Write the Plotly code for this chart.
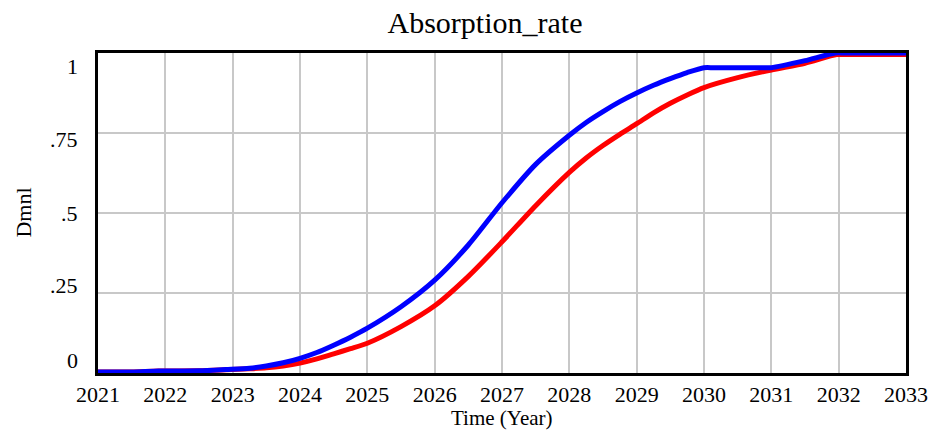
import plotly.graph_objects as go

# ---- data ----
blue_years = [2021, 2021.5, 2021.9, 2022.5, 2022.9, 2023.25, 2023.5, 2023.75, 2024, 2024.25,
              2024.5, 2024.75, 2025, 2025.5, 2026, 2026.5, 2027, 2027.5, 2028, 2028.25,
              2028.5, 2028.75, 2029, 2029.25, 2029.5, 2029.75, 2030, 2030.15, 2030.85, 2031,
              2031.5, 2031.95, 2032.1, 2033]
blue_vals = [0.003, 0.003, 0.006, 0.007, 0.011, 0.015, 0.022, 0.032, 0.046, 0.064,
             0.087, 0.112, 0.140, 0.207, 0.290, 0.400, 0.532, 0.652, 0.743, 0.783,
             0.817, 0.848, 0.875, 0.899, 0.920, 0.939, 0.954, 0.954, 0.954, 0.954,
             0.976, 1.0, 1.0, 1.0]

red_years = [2021, 2021.5, 2021.9, 2022.5, 2022.9, 2023.25, 2023.5, 2023.75, 2024, 2024.25,
             2024.5, 2024.75, 2025, 2025.5, 2026, 2026.5, 2027, 2027.5, 2028, 2028.25,
             2028.5, 2028.75, 2029, 2029.25, 2029.5, 2029.75, 2030, 2030.5, 2031, 2031.5,
             2031.97, 2032.1, 2033]
red_vals = [0.003, 0.003, 0.006, 0.007, 0.010, 0.013, 0.016, 0.022, 0.031, 0.044,
            0.060, 0.076, 0.093, 0.145, 0.210, 0.302, 0.410, 0.523, 0.627, 0.672,
            0.711, 0.746, 0.779, 0.813, 0.843, 0.869, 0.892, 0.923, 0.947, 0.968,
            0.995, 0.995, 0.995]

x_ticks = list(range(2021, 2034))
y_ticks = [0, 0.25, 0.5, 0.75, 1]
y_tick_text = ["0", ".25", ".5", ".75", "1"]

title_text = "Absorption_rate"
x_title = "Time (Year)"
y_title = "Dmnl"

FONT = "Liberation Serif, Times New Roman, serif"
W, H = 940, 432
L, R, T, B = 98, 28, 53, 59

fig = go.Figure()
fig.add_trace(go.Scatter(x=red_years, y=red_vals, mode="lines",
                         line=dict(color="#ff0000", width=5, shape="spline", smoothing=0.7),
                         name="red", showlegend=False))
fig.add_trace(go.Scatter(x=blue_years, y=blue_vals, mode="lines",
                         line=dict(color="#0000ff", width=5, shape="spline", smoothing=0.7),
                         name="blue", showlegend=False))

# y tick labels (Vensim places the end labels slightly inward)
label_pixel_y = [360, 285, 213, 139, 66]
plot_h = H - T - B
annotations = []
for txt, py in zip(y_tick_text, label_pixel_y):
    annotations.append(dict(text=txt, x=0, xref="paper", xanchor="right", xshift=-18,
                            y=(H - B - py) / plot_h, yref="paper", yanchor="middle",
                            showarrow=False, font=dict(family=FONT, size=22, color="black")))
annotations.append(dict(text=y_title, textangle=-90, x=(22 - L) / (W - L - R), xref="paper",
                        xanchor="center", y=(H - B - 213) / plot_h, yref="paper",
                        yanchor="middle", showarrow=False,
                        font=dict(family=FONT, size=22, color="black")))
annotations.append(dict(text=x_title, x=0.5, xref="paper", xanchor="center",
                        y=(H - B - 418) / plot_h, yref="paper", yanchor="middle",
                        showarrow=False, font=dict(family=FONT, size=21, color="black")))

fig.update_layout(
    width=W, height=H,
    margin=dict(l=L, r=R, t=T, b=B, pad=0),
    paper_bgcolor="white", plot_bgcolor="white",
    font=dict(family=FONT, size=22, color="black"),
    title=dict(text=title_text, x=485 / W, xref="container", xanchor="center",
               y=1 - 22 / H, yref="container", yanchor="middle",
               font=dict(family=FONT, size=30, color="black")),
    annotations=annotations,
    xaxis=dict(range=[2021, 2033], tickmode="array", tickvals=x_ticks,
               ticktext=[str(v) for v in x_ticks], showgrid=True, gridcolor="#c8c8c8",
               gridwidth=1.5, showline=True, linecolor="black", linewidth=2.5, mirror=True,
               ticks="", ticklen=0, zeroline=False, layer="below traces",
               tickfont=dict(family=FONT, size=22, color="black")),
    yaxis=dict(range=[0, 1], tickmode="array", tickvals=y_ticks, showticklabels=False,
               showgrid=True, gridcolor="#c8c8c8", gridwidth=1.5, showline=True,
               linecolor="black", linewidth=2.5, mirror=True, ticks="", zeroline=False,
               layer="below traces"),
)

fig.write_html("out.html", config={"displayModeBar": False},
               post_script="document.body.style.margin='0px';document.body.style.overflow='hidden';")
